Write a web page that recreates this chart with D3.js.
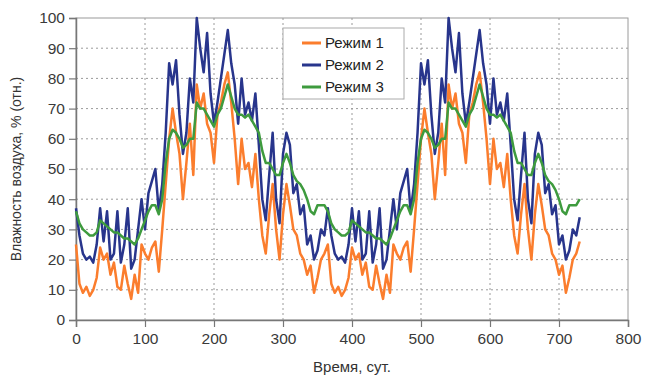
<!DOCTYPE html>
<html lang="ru">
<head>
<meta charset="UTF-8">
<title>Влажность воздуха</title>
<script src="https://cdn.jsdelivr.net/npm/d3@7"></script>
<style>
  body { margin: 0; background: #fff; }
  text { font-family: Arial, "Liberation Sans", sans-serif; }
</style>
</head>
<body>
<div id="chart"></div>
<script>
// sample days (read every 5 days off the picture)
var days = [0,5,10,15,20,25,30,35,40,45,50,55,60,65,70,75,80,85,90,95,
  100,105,110,115,120,125,130,135,140,145,150,155,160,165,170,175,180,185,190,195,
  200,205,210,215,220,225,230,235,240,245,250,255,260,265,270,275,280,285,290,295,
  300,305,310,315,320,325,330,335,340,345,350,355,360,365,370,375,380,385,390,395,
  400,405,410,415,420,425,430,435,440,445,450,455,460,465,470,475,480,485,490,495,
  500,505,510,515,520,525,530,535,540,545,550,555,560,565,570,575,580,585,590,595,
  600,605,610,615,620,625,630,635,640,645,650,655,660,665,670,675,680,685,690,695,
  700,705,710,715,720,725,730];

// Режим 1 (orange)
var mode1 = [25,12,9,11,8,10,14,24,20,22,15,19,11,10,18,12,7,15,9,25,
  22,20,24,26,16,30,45,60,70,62,55,40,52,65,48,78,70,75,65,62,
  52,68,72,78,82,72,60,45,60,50,52,44,55,40,28,22,35,45,30,20,
  35,45,38,30,28,22,20,15,18,9,14,20,22,
  25,12,9,11,8,10,14,24,20,22,15,19,11,10,18,12,7,15,9,25,
  22,20,24,26,16,30,45,60,70,62,55,40,52,65,48,78,70,75,65,62,
  52,68,72,78,82,72,60,45,60,50,52,44,55,40,28,22,35,45,30,20,
  35,45,38,30,28,22,20,15,18,9,14,20,22,26];

// Режим 2 (blue)
var mode2 = [37,28,22,20,21,19,25,37,26,36,20,22,36,19,25,37,17,20,30,40,
  30,42,46,50,36,45,62,85,78,86,68,55,62,80,72,100,90,82,95,75,
  65,72,80,88,96,85,78,65,80,68,72,66,75,58,40,33,48,62,40,32,
  55,62,58,42,45,35,38,25,28,20,23,30,28,
  37,28,22,20,21,19,25,37,26,36,20,22,36,19,25,37,17,20,30,40,
  30,42,46,50,36,45,62,85,78,86,68,55,62,80,72,100,90,82,95,75,
  65,72,80,88,96,85,78,65,80,68,72,66,75,58,40,33,48,62,40,32,
  55,62,58,42,45,35,38,25,28,20,23,30,28,34];

// Режим 3 (green)
var mode3 = [36,32,30,29,28,28,29,33,32,31,30,29,29,28,27,27,26,25,27,30,
  33,36,38,38,35,40,52,60,63,62,60,57,58,60,60,72,70,70,68,66,
  64,68,70,74,78,74,70,68,68,67,68,66,64,62,56,52,52,50,48,48,
  52,55,52,48,46,45,43,40,36,35,38,38,38,
  36,32,30,29,28,28,29,33,32,31,30,29,29,28,27,27,26,25,27,30,
  33,36,38,38,35,40,52,60,63,62,60,57,58,60,60,72,70,70,68,66,
  64,68,70,74,78,74,70,68,68,67,68,66,64,62,56,52,52,50,48,48,
  52,55,52,48,46,45,43,40,36,35,38,38,38,40];

var seriesNames = ["Режим 1", "Режим 2", "Режим 3"];
var seriesColors = ["#fb7d2d", "#28358c", "#3e9b3e"];
var xTicks = [0,100,200,300,400,500,600,700,800];
var yTicks = [0,10,20,30,40,50,60,70,80,90,100];

var W = 660, H = 382;
var m = {left: 76, top: 18, right: 32, bottom: 62};
var pw = W - m.left - m.right, ph = H - m.top - m.bottom;

var svg = d3.select('#chart').append('svg')
    .attr('width', W)
    .attr('height', H);

var x = d3.scaleLinear().domain([0, 800]).range([m.left, m.left + pw]);
var y = d3.scaleLinear().domain([0, 100]).range([m.top + ph, m.top]);

// dotted grid
svg.append('g').selectAll('line')
    .data(yTicks.slice(1, -1))
    .enter().append('line')
    .attr('x1', m.left).attr('x2', m.left + pw)
    .attr('y1', function(d){ return y(d); })
    .attr('y2', function(d){ return y(d); })
    .attr('stroke', '#9a9a9a')
    .attr('stroke-dasharray', '2,3');

svg.append('g').selectAll('line')
    .data(xTicks.slice(1, -1))
    .enter().append('line')
    .attr('y1', m.top).attr('y2', m.top + ph)
    .attr('x1', function(d){ return x(d); })
    .attr('x2', function(d){ return x(d); })
    .attr('stroke', '#9a9a9a')
    .attr('stroke-dasharray', '2,3');

// frame
svg.append('rect')
    .attr('x', m.left).attr('y', m.top)
    .attr('width', pw).attr('height', ph)
    .attr('fill', 'none')
    .attr('stroke', '#9a9a9a');

// axes
var xAxis = svg.append('g')
    .attr('transform', 'translate(0,' + (m.top + ph) + ')')
    .call(d3.axisBottom(x).tickValues(xTicks).tickSize(7).tickPadding(6));
var yAxis = svg.append('g')
    .attr('transform', 'translate(' + m.left + ',0)')
    .call(d3.axisLeft(y).tickValues(yTicks).tickSize(7).tickPadding(4));

[xAxis, yAxis].forEach(function(a){
    a.select('.domain').attr('stroke', '#777').attr('stroke-width', 1.5);
    a.selectAll('.tick line').attr('stroke', '#777').attr('stroke-width', 1.2);
    a.selectAll('.tick text')
        .attr('fill', '#3a3a3a')
        .style('font-size', '15.5px');
});

// series lines
var line = d3.line()
    .x(function(d){ return x(d[0]); })
    .y(function(d){ return y(d[1]); });

[mode1, mode2, mode3].forEach(function(vals, i){
    svg.append('path')
        .datum(days.map(function(d, j){ return [d, vals[j]]; }))
        .attr('fill', 'none')
        .attr('stroke', seriesColors[i])
        .attr('stroke-width', 2.5)
        .attr('stroke-linejoin', 'round')
        .attr('d', line);
});

// legend
var lg = svg.append('g').attr('transform', 'translate(283,28)');
lg.append('rect')
    .attr('width', 121).attr('height', 71)
    .attr('fill', '#fff')
    .attr('stroke', '#aaa');
seriesNames.forEach(function(name, i){
    var ly = 15 + i * 22;
    lg.append('line')
        .attr('x1', 19).attr('x2', 38)
        .attr('y1', ly).attr('y2', ly)
        .attr('stroke', seriesColors[i])
        .attr('stroke-width', 3);
    lg.append('text')
        .attr('x', 42).attr('y', ly)
        .attr('dy', '0.35em')
        .attr('fill', '#222')
        .style('font-size', '15px')
        .text(name);
});

// axis titles
svg.append('text')
    .attr('transform', 'translate(21,' + (m.top + ph / 2) + ') rotate(-90)')
    .attr('text-anchor', 'middle')
    .attr('fill', '#333')
    .style('font-size', '14px')
    .text('Влажность воздуха, % (отн.)');

svg.append('text')
    .attr('x', x(400)).attr('y', 372)
    .attr('text-anchor', 'middle')
    .attr('fill', '#333')
    .style('font-size', '15px')
    .text('Время, сут.');
</script>
</body>
</html>
